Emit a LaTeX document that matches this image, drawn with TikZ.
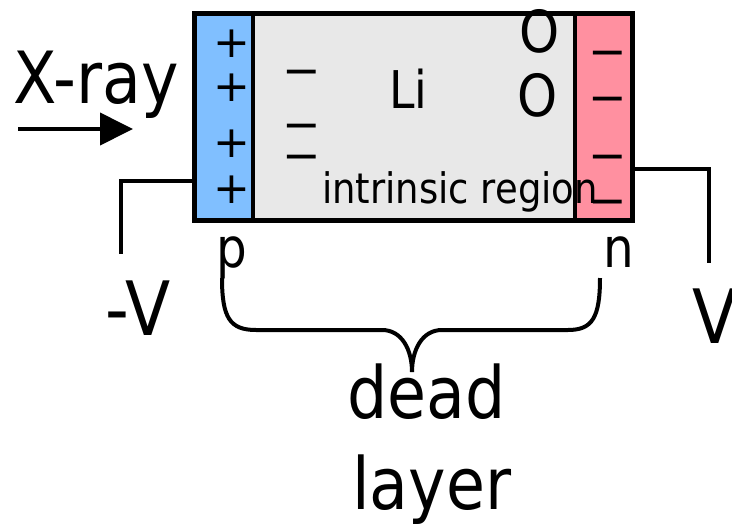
\documentclass[tikz,border=0pt]{standalone}
\usepackage{fontspec}
\setmainfont{DejaVu Sans}[FakeStretch=0.88]
\newfontfamily\symfont{DejaVu Sans}
\usetikzlibrary{arrows.meta}
\definecolor{pblue}{RGB}{128,191,255}
\definecolor{igray}{RGB}{232,232,232}
\definecolor{npink}{RGB}{255,144,160}
\begin{document}
\begin{tikzpicture}[x=1pt,y=-1pt,
  region/.style={draw=black, line width=4.5pt, inner sep=0, anchor=north west, minimum height=207pt},
  wire/.style={line width=4pt},
  lbl/.style={inner sep=0, anchor=base west},
  plusmark/.style={inner sep=0, anchor=base, font=\symfont\fontsize{44}{44}\selectfont},
  minusmark/.style={inner sep=0, anchor=base, font=\symfont\fontsize{46}{46}\selectfont}]
\useasboundingbox (0,0) rectangle (732,523);
% regions
\node[region, fill=igray, minimum width=322pt] (ig) at (250.5,11) {};
\node[region, fill=pblue, minimum width=58.5pt] (pl) at (192,11) {};
\node[region, fill=npink, minimum width=57.5pt] (nl) at (572.5,11) {};
% plus signs (axis ~0.37em above baseline)
\foreach \yy [count=\i] in {42,86,142,188}
  \node[plusmark] (plus\i) at (232,\yy+15.5) {+};
% minus signs in intrinsic region
\foreach \yy [count=\i] in {69,123,154}
  \node[minusmark] (mi\i) at (301.5,\yy+17) {−};
% minus signs in n layer
\foreach \yy [count=\i] in {50,96,154,199}
  \node[minusmark] (mn\i) at (608,\yy+17) {−};
% holes
\node[inner sep=0, anchor=base, font=\fontsize{58}{58}\selectfont] (h1) at (540,52) {O};
\node[inner sep=0, anchor=base, font=\fontsize{58}{58}\selectfont] (h2) at (538,116) {O};
% labels
\node[lbl, font=\fontsize{52}{52}\selectfont] (li) at (389,108) {Li};
\node[lbl, font=\fontsize{42}{42}\selectfont] (intr) at (322,203) {intrinsic region};
\node[lbl, font=\fontsize{72}{72}\selectfont] (xray) at (13,103) {X-ray};
\node[lbl, font=\fontsize{55}{55}\selectfont] (plab) at (216,267) {p};
\node[lbl, font=\fontsize{55}{55}\selectfont] (nlab) at (603,267) {n};
\node[lbl, font=\fontsize{75}{75}\selectfont] (mv) at (105,335) {-V};
\node[lbl, font=\fontsize{75}{75}\selectfont] (pv) at (692,343) {V};
\node[lbl, font=\fontsize{72}{72}\selectfont] (dead) at (347,418) {dead};
\node[lbl, font=\fontsize{72}{72}\selectfont] (layer) at (352,509) {layer};
% x-ray arrow
\coordinate (a0) at (18,129);
\coordinate (a1) at (133,129);
\draw[line width=4pt, -{Triangle[length=33pt,width=32pt]}] (a0) -- (a1);
% wires
\coordinate (wl) at (120.5,254);
\coordinate (wr) at (709,263);
\draw[wire] (pl.west |- 0,180.5) -| (wl);
\draw[wire] (nl.east |- 0,168.5) -| (wr);
% brace
\coordinate (b0) at (222,278);
\coordinate (tip) at (412,372);
\coordinate (b1) at (600,278);
\draw[wire] (b0) .. controls (222,318) and (230,330) .. (256,330) -- (382,330)
  .. controls (402,330) and (412,350) .. (tip);
\draw[wire] (tip) .. controls (412,350) and (422,330) .. (442,330) -- (568,330)
  .. controls (592,330) and (600,318) .. (b1);
\end{tikzpicture}
\end{document}
